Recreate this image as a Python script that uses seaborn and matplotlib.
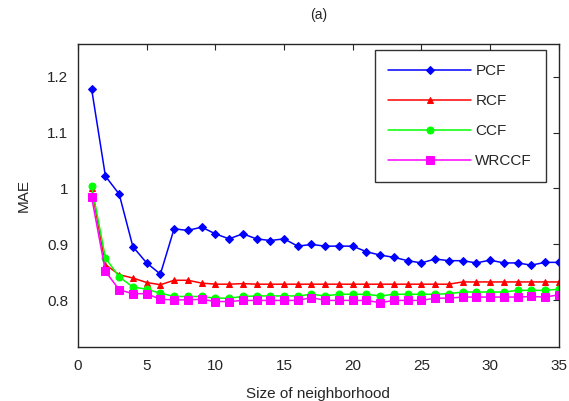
import matplotlib
matplotlib.use("Agg")
import matplotlib.pyplot as plt
import numpy as np
import pandas as pd
import seaborn as sns

# neighborhood sizes 1..35
sizes = list(range(1, 36))

pcf = [1.177, 1.022, 0.990, 0.896, 0.867, 0.847, 0.928, 0.925, 0.931, 0.919,
       0.910, 0.919, 0.910, 0.907, 0.910, 0.897, 0.900, 0.897, 0.897, 0.897,
       0.887, 0.881, 0.877, 0.871, 0.867, 0.874, 0.871, 0.871, 0.867, 0.872,
       0.867, 0.867, 0.863, 0.868, 0.868]
rcf = [1.000, 0.864, 0.846, 0.840, 0.832, 0.828, 0.836, 0.836, 0.831, 0.829,
       0.829, 0.830, 0.829, 0.829, 0.829, 0.829, 0.829, 0.829, 0.829, 0.829,
       0.829, 0.829, 0.829, 0.829, 0.829, 0.829, 0.829, 0.833, 0.833, 0.833,
       0.833, 0.833, 0.833, 0.833, 0.833]
ccf = [1.004, 0.876, 0.842, 0.824, 0.820, 0.813, 0.807, 0.807, 0.807, 0.804,
       0.804, 0.807, 0.808, 0.808, 0.808, 0.808, 0.811, 0.808, 0.811, 0.811,
       0.811, 0.808, 0.811, 0.811, 0.811, 0.811, 0.812, 0.815, 0.815, 0.815,
       0.815, 0.818, 0.818, 0.818, 0.820]
wrccf = [0.984, 0.852, 0.819, 0.812, 0.812, 0.802, 0.801, 0.801, 0.802, 0.798,
         0.798, 0.800, 0.800, 0.800, 0.800, 0.800, 0.805, 0.800, 0.800, 0.800,
         0.800, 0.796, 0.800, 0.800, 0.800, 0.804, 0.804, 0.806, 0.806, 0.806,
         0.806, 0.806, 0.807, 0.806, 0.810]

series = ["PCF", "RCF", "CCF", "WRCCF"]
colors = ["#0000ff", "#ff0000", "#00ff00", "#ff00ff"]
markers = ["D", "^", "o", "s"]
msizes = [4, 5, 5, 6]

sns.set_style("white")
plt.rcParams["font.family"] = ["Liberation Sans", "DejaVu Sans"]
plt.rcParams["font.size"] = 11

df = pd.DataFrame({"size": sizes, "PCF": pcf, "RCF": rcf, "CCF": ccf, "WRCCF": wrccf})

fig = plt.figure(figsize=(5.69, 4.01), dpi=100)
ax = fig.add_axes([0.137, 0.135, 0.845, 0.755])

for name, c, m, ms in zip(series, colors, markers, msizes):
    sns.lineplot(data=df, x="size", y=name, ax=ax, color=c, marker=m,
                 markersize=ms, markeredgecolor=c, linewidth=1.1, label=name)

ax.set_xlim(0, 35)
ax.set_ylim(0.717, 1.258)
ax.set_xticks(np.arange(0, 36, 5))
ax.set_yticks([0.8, 0.9, 1.0, 1.1, 1.2])
ax.set_yticklabels(["0.8", "0.9", "1", "1.1", "1.2"])
ax.tick_params(direction="in", length=4, top=True, right=True,
               labelsize=11, colors="#262626", width=0.8, pad=7)
ax.tick_params(axis="x", pad=9)
for s in ax.spines.values():
    s.set_color("#262626")
    s.set_linewidth(1)

ax.set_xlabel("Size of neighborhood", fontsize=11, labelpad=10)
ax.set_ylabel("MAE", fontsize=11, labelpad=12)
ax.set_title("(a)", fontsize=10, pad=18)

leg = ax.legend(loc="upper right", bbox_to_anchor=(0.973, 0.98), frameon=True,
                fancybox=False, edgecolor="black", fontsize=11,
                handlelength=5.4, handletextpad=0.3, borderpad=0.9,
                labelspacing=1.05, borderaxespad=0)
leg.get_frame().set_linewidth(1)

fig.savefig("out.png", dpi=100)
